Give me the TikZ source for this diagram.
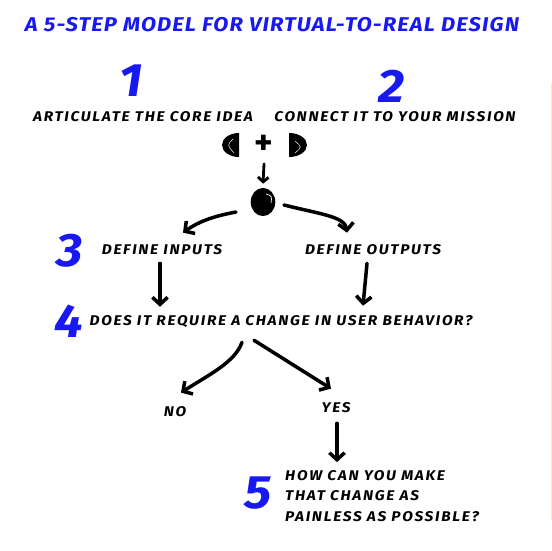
\documentclass[tikz,border=0pt]{standalone}
\usepackage{fontspec}
\setmainfont{Fira Sans}
\newfontfamily\sketchfont{Fira Sans}[LetterSpace=12, FakeStretch=1.1]
\newfontfamily\headfont{Fira Sans}[LetterSpace=6, FakeStretch=1.1]
\usetikzlibrary{arrows.meta, shapes.geometric, calc}
\definecolor{stepblue}{RGB}{24, 24, 240}
\definecolor{paperedge}{RGB}{250, 232, 208}

\begin{document}
\begin{tikzpicture}[
    x=0.03cm, y=-0.03cm,
    heading/.style={font=\headfont\bfseries\itshape\fontsize{17}{20}\selectfont, text=stepblue, inner sep=0pt},
    stepnum/.style={font=\headfont\bfseries\itshape\fontsize{40}{40}\selectfont, text=stepblue, inner sep=0pt},
    note/.style={font=\sketchfont\bfseries\itshape\fontsize{12}{17.5}\selectfont, inner sep=0pt},
    sketcharrow/.style={-{Straight Barb[length=6pt, width=13pt]}, line width=3pt, line cap=round, line join=round},
    smallarrow/.style={-{Straight Barb[length=4pt, width=9pt]}, line width=2.4pt, line cap=round, line join=round}
  ]
  \useasboundingbox (0,0) rectangle (552,550);
  \fill[white] (0,0) rectangle (552,550);
  \draw[paperedge, line width=0.8pt] (551,83) -- (551,520);

  % Title
  \node[heading] (title) at (272,25) {A 5-STEP MODEL FOR VIRTUAL-TO-REAL DESIGN};

  % Steps 1 and 2
  \node[stepnum] (num1) at (131,81) {1};
  \node[stepnum] (num2) at (392,86) {2};
  \node[note] (articulate) at (143,117) {ARTICULATE THE CORE IDEA};
  \node[note] (connect) at (395,117) {CONNECT IT TO YOUR MISSION};

  % Idea + mission halves
  \fill (239,133) arc[start angle=-90, end angle=-270, x radius=17, y radius=12] -- cycle;
  \draw[white, line width=0.4pt] (233,139) .. controls (227,145) .. (234,153);
  \node[font=\bfseries\fontsize{30}{30}\selectfont, inner sep=0pt] (plus) at (264,145) {+};
  \fill (289,133) arc[start angle=-90, end angle=90, x radius=18, y radius=12] -- cycle;
  \draw[white, line width=0.4pt] (295,141) .. controls (302,147) .. (295,153);

  % Core
  \node[ellipse, fill=black, minimum width=21pt, minimum height=24pt, inner sep=0pt] (core) at (263,202) {};
  \draw[white, line width=0.6pt] (266,194) .. controls (272,196) .. (271,203);
  \draw[smallarrow] ($(plus.south)+(0,9)$) -- ($(core.north)+(0,-4)$);

  % Step 3
  \node[stepnum] (num3) at (70,251) {3};
  \node[note] (inputs) at (162,250) {DEFINE INPUTS};
  \node[note] (outputs) at (373,250) {DEFINE OUTPUTS};
  \draw[sketcharrow] ($(core)+(-27,10)$) .. controls +(-21,4) and +(17,-12) .. ($(inputs.north)+(21,-12)$);
  \draw[sketcharrow] ($(core)+(21,3)$) .. controls +(36,9) and +(-2,-16) .. ($(outputs.north)+(-26,-12)$);

  % Step 4
  \node[stepnum] (num4) at (69,321) {4};
  \node[note] (question) at (281,322) {DOES IT REQUIRE A CHANGE IN USER BEHAVIOR?};
  \draw[sketcharrow] ($(inputs.south)+(-2,8)$) -- ($(inputs.south |- question.north)+(-2,-9)$);
  \draw[sketcharrow] ($(outputs.south)+(-6,8)$) -- ($(outputs.south |- question.north)+(-10,-10)$);

  % Answers
  \node[note] (no) at (175,412) {NO};
  \node[note] (yes) at (336,408) {YES};
  \draw[sketcharrow] ($(question.south)+(-39,14)$) .. controls +(-7,20) and +(28,-18) .. ($(no.north)+(6,-14)$);
  \draw[sketcharrow] ($(question.south)+(-27,12)$) -- ($(yes.north)+(-5,-14)$);

  % Step 5
  \node[stepnum] (num5) at (258,493) {5};
  \node[note, align=left, anchor=west] (painless) at (285,496) {HOW CAN YOU MAKE\\THAT CHANGE AS\\PAINLESS AS POSSIBLE?};
  \draw[sketcharrow] ($(yes.south)+(1,10)$) -- ($(yes.south |- painless.north)+(1,-8)$);
\end{tikzpicture}
\end{document}
